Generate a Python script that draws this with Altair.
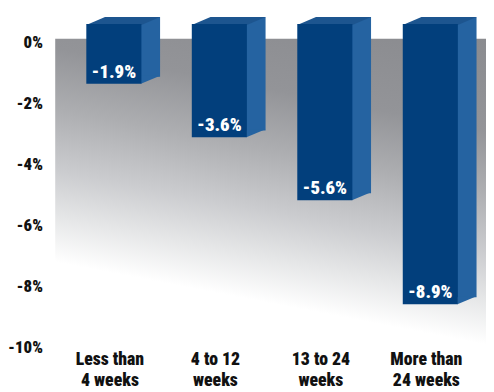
import altair as alt
import pandas as pd

categories = ["Less than\n4 weeks", "4 to 12\nweeks", "13 to 24\nweeks", "More than\n24 weeks"]
values = [-1.9, -3.6, -5.6, -8.9]
tick_values = [0, -2, -4, -6, -8, -10]

df = pd.DataFrame({"category": categories, "value": values})
ticks_df = pd.DataFrame({"tick": tick_values})

FONT = "Roboto Condensed, Roboto, sans-serif"
FRONT = "#023f7c"
SIDE = "#2563a1"
TOP = "#1d558f"

x_enc = alt.X(
    "category:N",
    sort=categories,
    scale=alt.Scale(range=[6, 435], paddingInner=0, paddingOuter=0),
    axis=alt.Axis(
        title=None, labelAngle=0, domain=False, ticks=False, tickSize=0,
        labelExpr="split(datum.label, '\\n')",
        labelFont=FONT, labelFontSize=18, labelFontWeight=900,
        labelColor="#111111", labelLineHeight=22, labelPadding=1,
        labelBaseline="top", labelOffset=-4, labelLimit=0,
    ),
)

bar_scale = alt.Scale(domain=[-10.34, -0.469], nice=False, zero=False)
y_val = alt.Y("value:Q", scale=bar_scale, axis=None)
y_zero = alt.YDatum(0, type="quantitative", scale=bar_scale, axis=None)
y2_zero = alt.Y2Datum(0)

base = alt.Chart(df)

side = base.mark_bar(width=20, xOffset=37, yOffset=-7, y2Offset=-7, color=SIDE).encode(
    x=x_enc, y=y_val, y2=y2_zero
)

TOP_PATH = "M-1,0.03L0.4933,0.03L1,-0.1867L-0.4933,-0.1867Z"
top = base.mark_point(
    shape=TOP_PATH, size=5625, filled=True, opacity=1, strokeWidth=0,
    color=TOP, xOffset=9.5,
).encode(x=x_enc, y=y_zero)

BOT_PATH = "M-1.05,-0.85L-1.05,0L1,-0.85Z"
bottom = base.mark_point(
    shape=BOT_PATH, size=361, filled=True, opacity=1, strokeWidth=0,
    color=SIDE, xOffset=37.5,
).encode(x=x_enc, y=y_val)

front = base.mark_bar(width=56, color=FRONT).encode(x=x_enc, y=y_val, y2=y2_zero)

text = base.transform_calculate(
    label="toString(datum.value) + '%'"
).mark_text(
    font=FONT, fontSize=19, fontWeight=900, color="white",
    baseline="alphabetic", align="center", dy=-6,
).encode(x=x_enc, y=y_val, text="label:N")

bars = alt.layer(side, top, bottom, front, text)

axis_layer = alt.Chart(ticks_df).mark_point(opacity=0).encode(
    y=alt.Y(
        "tick:Q",
        scale=alt.Scale(domain=[-10.065, 0.129], nice=False, zero=False),
        axis=alt.Axis(
            orient="left", values=tick_values, labelExpr="datum.value + '%'",
            title=None, domain=False, ticks=False, tickSize=0, grid=False,
            labelFont=FONT, labelFontSize=17, labelFontWeight=900,
            labelColor="#111111", labelPadding=13, labelFlush=False,
            labelOverlap=False,
        ),
    )
)

gradient = alt.LinearGradient(
    gradient="linear",
    stops=[
        alt.GradientStop(color="#8a8b8f", offset=0),
        alt.GradientStop(color="#939498", offset=0.3),
        alt.GradientStop(color="#adaeb1", offset=0.5),
        alt.GradientStop(color="#cbcccf", offset=0.7),
        alt.GradientStop(color="#e5e6e7", offset=0.85),
        alt.GradientStop(color="#ffffff", offset=1),
    ],
    x1=1, y1=0, x2=0.756, y2=0.919,
)

backdrop = alt.Chart().mark_rect(fill=gradient, strokeWidth=0).encode(
    x=alt.value(0), x2=alt.value("width"), y=alt.value(0), y2=alt.value("height")
)

chart = alt.layer(backdrop, axis_layer, bars).resolve_scale(y="independent").properties(
    width=438,
    height=316,
    autosize=alt.AutoSizeParams(type="none"),
    padding={"left": 48, "top": 28, "right": 0, "bottom": 40},
    background="white",
).configure_view(stroke=None)

chart.save("out.html", embed_options={"renderer": "svg", "actions": False})
